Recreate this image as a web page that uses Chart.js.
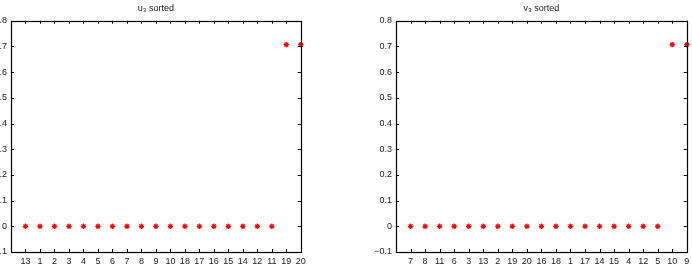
<!DOCTYPE html>
<html>
<head>
<meta charset="utf-8">
<script src="https://cdn.jsdelivr.net/npm/chart.js@4"></script>
<style>
  body { margin: 0; background: #fff; overflow: hidden; }
  .wrap { position: absolute; top: 0; width: 346px; height: 276px; }
</style>
</head>
<body>
<div class="wrap" style="left:-40px"><canvas id="u3-chart" width="346" height="276"></canvas></div>
<div class="wrap" style="left:346px"><canvas id="v3-chart" width="346" height="276"></canvas></div>
<script>
// order of the nodes after sorting, and the sorted values
var uLabels = [13, 1, 2, 3, 4, 5, 6, 7, 8, 9, 10, 18, 17, 16, 15, 14, 12, 11, 19, 20];
var uValues = [0, 0, 0, 0, 0, 0, 0, 0, 0, 0, 0, 0, 0, 0, 0, 0, 0, 0, 0.7071, 0.7071];

var vLabels = [7, 8, 11, 6, 3, 13, 2, 19, 20, 16, 18, 1, 17, 14, 15, 4, 12, 5, 10, 9];
var vValues = [0, 0, 0, 0, 0, 0, 0, 0, 0, 0, 0, 0, 0, 0, 0, 0, 0, 0, 0.7071, 0.7071];

var yTicks = [-0.1, 0, 0.1, 0.2, 0.3, 0.4, 0.5, 0.6, 0.7, 0.8];

var tickFont = { family: 'Liberation Sans, Arial, sans-serif', size: 9 };

// matlab style box with inward ticks on all four sides
var boxTicks = {
  id: 'boxTicks',
  afterDatasetsDraw: function(chart) {
    var ctx = chart.ctx, a = chart.chartArea;
    var xs = chart.scales.x, ys = chart.scales.y;
    ctx.save();
    ctx.strokeStyle = '#000';
    ctx.lineWidth = 1;
    ctx.beginPath();
    xs.ticks.forEach(function(t) {
      var px = Math.round(xs.getPixelForValue(t.value)) + 0.5;
      ctx.moveTo(px, a.top); ctx.lineTo(px, a.top + 3);
      ctx.moveTo(px, a.bottom); ctx.lineTo(px, a.bottom - 3);
    });
    ys.ticks.forEach(function(t) {
      var py = Math.round(ys.getPixelForValue(t.value)) + 0.5;
      ctx.moveTo(a.left, py); ctx.lineTo(a.left + 3, py);
      ctx.moveTo(a.right, py); ctx.lineTo(a.right - 3, py);
    });
    ctx.stroke();
    ctx.lineWidth = 1.2;
    ctx.strokeRect(Math.round(a.left) + 0.5, Math.round(a.top) + 0.5, Math.round(a.right - a.left), Math.round(a.bottom - a.top));
    ctx.restore();
  }
};

function makePlot(id, title, labels, values, yWidth) {
  var pts = values.map(function(v, i) { return { x: i + 1, y: v }; });
  return new Chart(document.getElementById(id), {
    type: 'scatter',
    data: {
      datasets: [{
        data: pts,
        pointStyle: 'star',
        pointRadius: 2.7,
        pointBorderWidth: 1.2,
        borderColor: '#ff0000',
        backgroundColor: '#ff0000',
        clip: false
      }]
    },
    options: {
      responsive: false,
      animation: false,
      layout: { padding: { right: 3, left: 0, top: 0, bottom: 0 } },
      plugins: {
        legend: { display: false },
        tooltip: { enabled: false },
        title: {
          display: true,
          text: title,
          fullSize: false,
          color: '#222',
          font: { family: 'Liberation Sans, Arial, sans-serif', size: 9, weight: 'normal' },
          padding: { top: 3, bottom: 7 }
        }
      },
      scales: {
        x: {
          type: 'linear',
          min: 0,
          max: 20,
          grid: { display: false, drawTicks: false },
          border: { display: false },
          afterBuildTicks: function(scale) {
            scale.ticks = labels.map(function(l, i) { return { value: i + 1 }; });
          },
          afterFit: function(scale) {
            scale.height = 24;
            scale.paddingLeft = 0;
            scale.paddingRight = 0;
          },
          ticks: {
            autoSkip: false,
            maxRotation: 0,
            padding: 4,
            color: '#222',
            font: tickFont,
            callback: function(v) { return labels[v - 1] !== undefined ? String(labels[v - 1]) : ''; }
          }
        },
        y: {
          min: -0.1,
          max: 0.8,
          grid: { display: false, drawTicks: false },
          border: { display: false },
          afterBuildTicks: function(scale) {
            scale.ticks = yTicks.map(function(v) { return { value: v }; });
          },
          afterFit: function(scale) {
            scale.width = yWidth;
            scale.paddingTop = 0;
            scale.paddingBottom = 0;
          },
          ticks: {
            padding: 4,
            color: '#222',
            font: tickFont,
            callback: function(v) {
              if (Math.abs(v) < 1e-9) return '0';
              return v < 0 ? '\u2212' + Math.abs(v).toFixed(1) : v.toFixed(1);
            }
          }
        }
      }
    },
    plugins: [boxTicks]
  });
}

makePlot('u3-chart', 'u\u2083 sorted', uLabels, uValues, 51);
makePlot('v3-chart', 'v\u2083 sorted', vLabels, vValues, 50);
</script>
</body>
</html>
